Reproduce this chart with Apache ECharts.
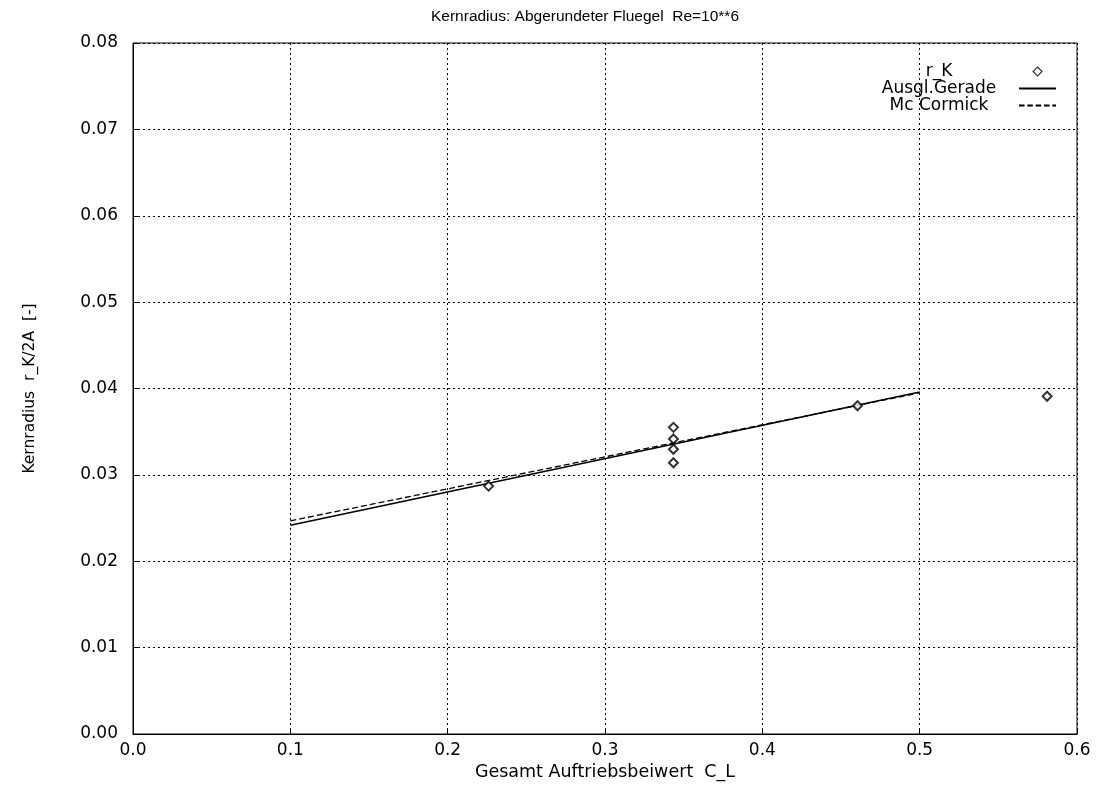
<!DOCTYPE html>
<html>
<head>
<meta charset="utf-8">
<script src="https://cdn.jsdelivr.net/npm/echarts@6/dist/echarts.min.js"></script>
<style>
  html, body { margin: 0; padding: 0; background: #fff; }
  #chart { width: 1104px; height: 792px; }
</style>
</head>
<body>
<div id="chart"></div>
<script>
// Measured core radius r_K/2A against total lift coefficient C_L
const measuredCL = [0.226, 0.3435, 0.3435, 0.3435, 0.3435, 0.4605, 0.581];
const measuredRK = [0.0287, 0.0355, 0.03415, 0.03296, 0.0314, 0.0380, 0.0391];

// Fitted straight line (Ausgl. Gerade) endpoints
const fitCL = [0.1, 0.5];
const fitRK = [0.02418, 0.0396];

// Mc Cormick correlation endpoints
const mcCL = [0.1, 0.5];
const mcRK = [0.02468, 0.0395];

const xTicks = [0, 0.1, 0.2, 0.3, 0.4, 0.5, 0.6];
const yTicks = [0, 0.01, 0.02, 0.03, 0.04, 0.05, 0.06, 0.07, 0.08];

const pairs = (xs, ys) => xs.map((x, i) => [x, ys[i]]);

const titleFont = 'Liberation Sans, Arial, Helvetica, sans-serif';
const font = 'DejaVu Sans, Liberation Sans, sans-serif';
const chart = echarts.init(document.getElementById('chart'), null, { renderer: 'canvas' });

const diamondIcon = 'path://M5,0 L10,5 L5,10 L0,5 Z';
const solidIcon = 'path://M0,0 H40 V2 H0 Z';
const dashedIcon = 'path://M0,0 H6 V2 H0 Z M9,0 H15 V2 H9 Z M18,0 H24 V2 H18 Z M27,0 H33 V2 H27 Z M36,0 H40 V2 H36 Z';

chart.setOption({
  animation: false,
  backgroundColor: '#fff',
  title: {
    text: 'Kernradius: Abgerundeter Fluegel  Re=10**6',
    left: 580,
    textAlign: 'center',
    top: 4,
    textStyle: { fontFamily: titleFont, fontSize: 15.5, fontWeight: 'normal', color: '#000' }
  },
  legend: {
    right: 43,
    top: 58,
    orient: 'vertical',
    align: 'right',
    itemGap: 0,
    itemWidth: 37,
    itemHeight: 9,
    symbolKeepAspect: true,
    textStyle: {
      fontFamily: font, fontSize: 17, color: '#000', lineHeight: 16,
      rich: { t: { fontFamily: font, fontSize: 17, color: '#000', width: 150, align: 'center', lineHeight: 16 } }
    },
    // labels sit centred in a common column left of the key symbols
    formatter: name => '{t|' + name + '}',
    data: [
      { name: 'r_K', icon: diamondIcon, itemStyle: { color: '#fff', borderColor: '#000', borderWidth: 1.2 } },
      { name: 'Ausgl.Gerade', icon: solidIcon, itemStyle: { color: '#000', borderWidth: 0 } },
      { name: 'Mc Cormick', icon: dashedIcon, itemStyle: { color: '#000', borderWidth: 0 } }
    ]
  },
  grid: {
    left: 133, right: 27, top: 43, bottom: 58,
    show: true, borderColor: '#000', borderWidth: 1, backgroundColor: 'transparent'
  },
  xAxis: {
    type: 'value',
    min: 0, max: 0.6, interval: 0.1,
    name: 'Gesamt Auftriebsbeiwert  C_L',
    nameLocation: 'middle',
    nameGap: 26,
    nameTextStyle: { fontFamily: font, fontSize: 17.5, color: '#000' },
    axisLine: { lineStyle: { color: '#000', width: 1 } },
    axisTick: { inside: true, length: 5, lineStyle: { color: '#000' } },
    axisLabel: {
      fontFamily: font, fontSize: 17, color: '#000', margin: 8,
      formatter: v => v.toFixed(1)
    },
    splitLine: { show: true, lineStyle: { color: '#000', type: [2, 3], width: 1 } }
  },
  yAxis: {
    type: 'value',
    min: 0, max: 0.08, interval: 0.01,
    name: 'Kernradius  r_K/2A  [-]',
    nameLocation: 'middle',
    nameGap: 95,
    nameTextStyle: { fontFamily: font, fontSize: 15.5, color: '#000' },
    axisLine: { lineStyle: { color: '#000', width: 1 } },
    axisTick: { inside: true, length: 5, lineStyle: { color: '#000' } },
    axisLabel: {
      fontFamily: font, fontSize: 17, color: '#000', margin: 15,
      formatter: v => v.toFixed(2)
    },
    splitLine: { show: true, lineStyle: { color: '#000', type: [2, 3], width: 1 } }
  },
  series: [
    {
      name: 'r_K',
      type: 'scatter',
      symbol: 'emptyDiamond',
      symbolSize: 9,
      itemStyle: { color: '#000', borderColor: '#000', borderWidth: 1.2 },
      data: pairs(measuredCL, measuredRK),
      z: 5
    },
    {
      name: 'Ausgl.Gerade',
      type: 'line',
      showSymbol: false,
      lineStyle: { color: '#000', width: 1.5 },
      itemStyle: { color: '#000' },
      data: pairs(fitCL, fitRK)
    },
    {
      name: 'Mc Cormick',
      type: 'line',
      showSymbol: false,
      lineStyle: { color: '#000', width: 1.3, type: [6, 3] },
      itemStyle: { color: '#000' },
      data: pairs(mcCL, mcRK)
    }
  ]
});
</script>
</body>
</html>
